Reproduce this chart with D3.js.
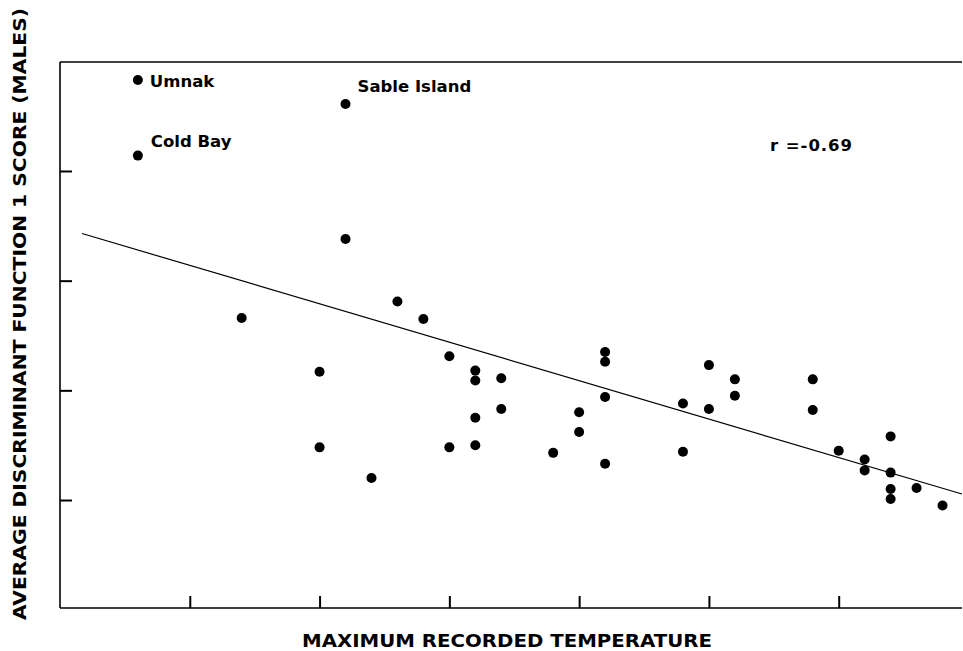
<!DOCTYPE html>
<html>
<head>
<meta charset="utf-8">
<script src="https://cdn.jsdelivr.net/npm/d3@7"></script>
<style>
  body{margin:0;background:#fff;}
  svg text{font-family:"DejaVu Sans",sans-serif;font-weight:bold;fill:#000;}
</style>
</head>
<body>
<div id="chart"></div>
<script>
// maximum recorded temperature per locality (x) and average DF1 score of males (y)
var temps = [13,13,21,21,17,23,24,20,20,22,25,26,26,27,26,27,25,26,29,30,30,
  31,31,31,31,34,34,35,35,36,36,39,39,40,41,41,42,42,42,42,43,44];
var scores = [4.83,4.14,4.61,3.38,2.66,2.81,2.65,2.17,1.48,1.20,2.31,2.18,2.09,2.11,1.75,1.83,1.48,1.50,1.43,1.80,1.62,
  2.35,2.26,1.94,1.33,1.88,1.44,2.23,1.83,2.10,1.95,2.10,1.82,1.45,1.37,1.27,1.58,1.25,1.10,1.01,1.11,0.95];
var namedPoints = [0, 1, 2];
var pointNames = ["Umnak", "Cold Bay", "Sable Island"];
var fitX = [10.85, 44.75];
var fitY = [3.43, 1.055];
var xTicks = [15, 20, 25, 30, 35, 40];
var yTicks = [1, 2, 3, 4];
var corrText = "r =-0.69";
var xTitle = "MAXIMUM RECORDED TEMPERATURE";
var yTitle = "AVERAGE DISCRIMINANT FUNCTION 1 SCORE (MALES)";

;(function(){
  var W = 963, H = 651;
  var left = 60, right = 962, top = 62, bottom = 608;

  var svg = d3.select("#chart").append("svg")
    .attr("width", W).attr("height", H);

  var x = d3.scaleLinear().domain([10, 44.75]).range([left, right]);
  var y = d3.scaleLinear().domain([0, 5]).range([609.7, 61.3]);

  // axes, ticks point inward, no labels
  var gx = svg.append("g").attr("transform", "translate(0," + bottom + ")")
    .call(d3.axisBottom(x).tickValues(xTicks).tickSize(-12).tickSizeOuter(0).tickFormat(""));
  var gy = svg.append("g").attr("transform", "translate(" + left + ",0)")
    .call(d3.axisLeft(y).tickValues(yTicks).tickSize(-12).tickSizeOuter(0).tickFormat(""));
  gx.select(".domain").attr("d", "M" + left + ",0H" + right);
  gy.select(".domain").attr("d", "M0," + top + "V" + bottom);
  svg.selectAll(".domain").attr("stroke", "#000").attr("stroke-width", 1.6);
  svg.selectAll(".tick line").attr("stroke", "#000").attr("stroke-width", 2);

  svg.append("line")
    .attr("x1", left).attr("x2", right).attr("y1", top).attr("y2", top)
    .attr("stroke", "#000").attr("stroke-width", 1.6);

  // regression line
  svg.append("line")
    .attr("x1", x(fitX[0])).attr("y1", y(fitY[0]))
    .attr("x2", x(fitX[1])).attr("y2", y(fitY[1]))
    .attr("stroke", "#000").attr("stroke-width", 1.2);

  svg.append("g").selectAll("circle")
    .data(temps)
    .enter().append("circle")
    .attr("cx", function(d){ return x(d); })
    .attr("cy", function(d, i){ return y(scores[i]); })
    .attr("r", 5)
    .attr("fill", "#000");

  var labelOffsets = [[12, 7], [13, -9], [12, -12]];
  svg.append("g").selectAll("text")
    .data(namedPoints)
    .enter().append("text")
    .attr("x", function(d, i){ return x(temps[d]) + labelOffsets[i][0]; })
    .attr("y", function(d, i){ return y(scores[d]) + labelOffsets[i][1]; })
    .style("font-size", "16.5px")
    .text(function(d, i){ return pointNames[i]; });

  svg.append("text")
    .attr("x", 770).attr("y", 151)
    .attr("textLength", 82).attr("lengthAdjust", "spacing")
    .style("font-size", "16.5px")
    .text(corrText);

  svg.append("text")
    .attr("x", 302).attr("y", 647)
    .attr("textLength", 410).attr("lengthAdjust", "spacingAndGlyphs")
    .style("font-size", "18px")
    .text(xTitle);

  svg.append("text")
    .attr("transform", "translate(26,620) rotate(-90)")
    .attr("textLength", 612).attr("lengthAdjust", "spacingAndGlyphs")
    .style("font-size", "18px")
    .text(yTitle);
})();
</script>
</body>
</html>
